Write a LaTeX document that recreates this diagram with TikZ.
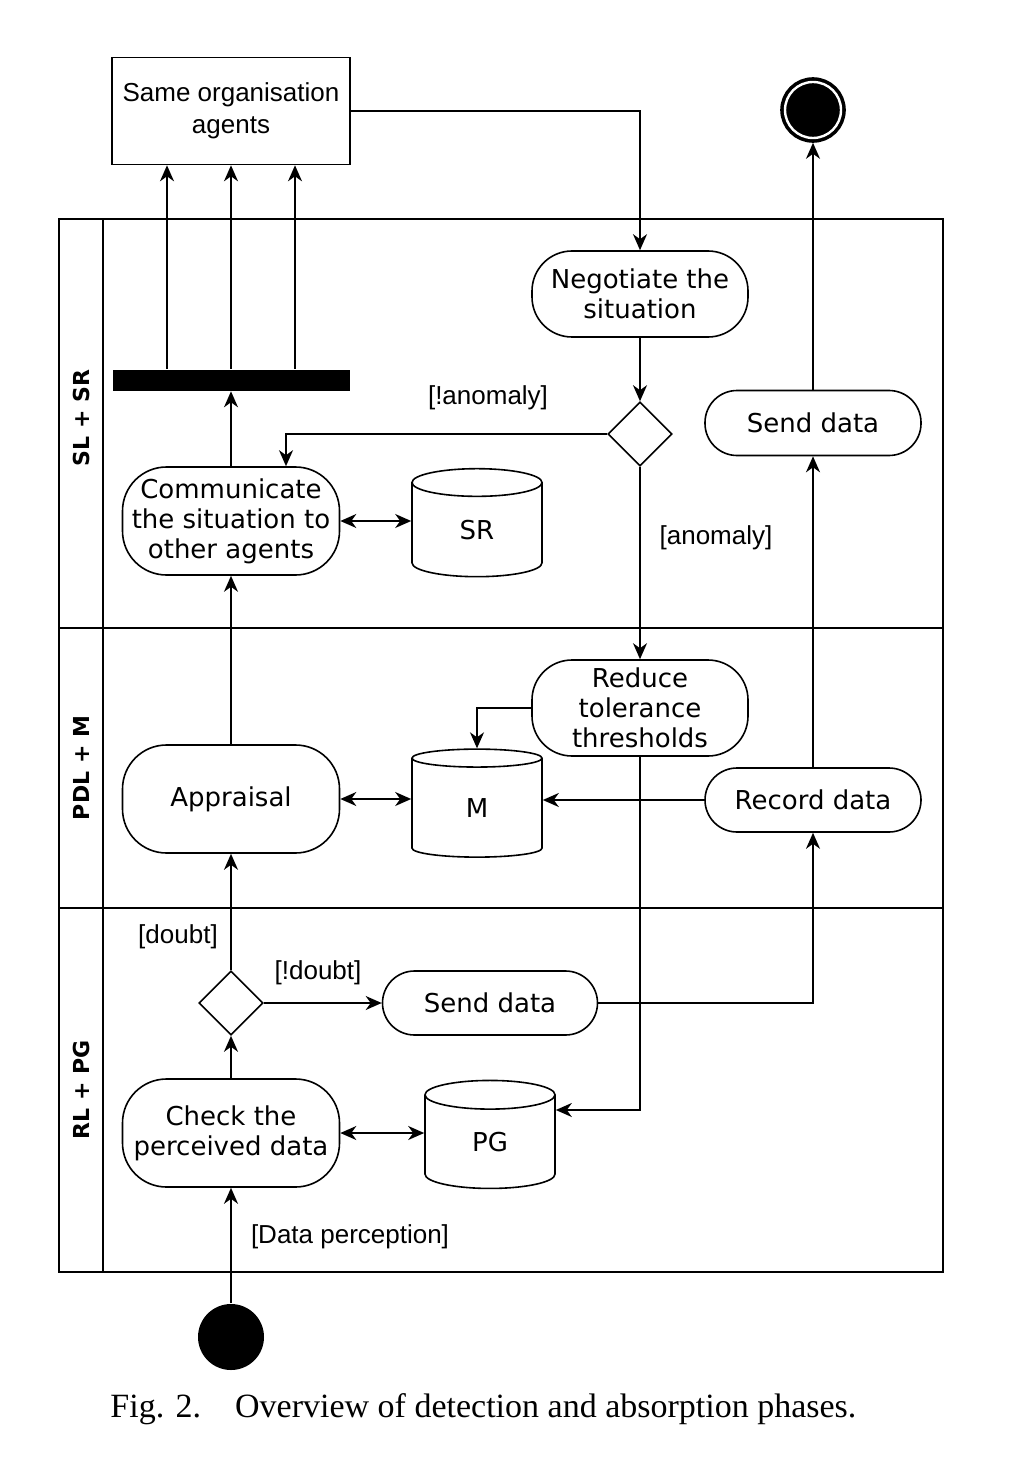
\documentclass[tikz,border=0pt]{standalone}
\usepackage{fontspec}
\setmainfont{Liberation Serif}
\newfontfamily\actfont{DejaVu Sans}
\newfontfamily\guardfont{Liberation Sans}
\usetikzlibrary{shapes.geometric,arrows.meta}
\tikzstyle{act}=[draw,rectangle,rounded corners=16pt,minimum width=108pt,minimum height=32.5pt,inner sep=1pt,align=center,font=\actfont\fontsize{13}{15}\selectfont]
\tikzstyle{store}=[draw,cylinder,shape border rotate=90,aspect=0.8,minimum width=65pt,minimum height=54pt,inner sep=0pt,font=\actfont\fontsize{13}{15}\selectfont]
\tikzstyle{choice}=[draw,diamond,minimum width=32pt,minimum height=32pt,inner sep=0pt]
\tikzstyle{guard}=[font=\guardfont\fontsize{13}{15}\selectfont]
\tikzstyle{lane}=[rotate=90,font=\actfont\bfseries\fontsize{11}{12}\selectfont]
\tikzstyle{flow}=[-{Stealth[length=8pt,width=7pt,inset=2.5pt]}]
\tikzstyle{both}=[{Stealth[length=8pt,width=7pt,inset=2.5pt]}-{Stealth[length=8pt,width=7pt,inset=2.5pt]}]

\begin{document}
\begin{tikzpicture}[x=0.5pt,y=-0.5pt,line width=0.8pt]
        \useasboundingbox (0,0) rectangle (1008,1476);
        \draw (59,219) rectangle (943,1272);
        \draw (103,219) -- (103,1272);
        \draw (59,628) -- (943,628);
        \draw (59,908) -- (943,908);
        \node[lane] (l1) at (81,418) {SL + SR};
        \node[lane] (l2) at (81,768) {PDL + M};
        \node[lane] (l3) at (81,1090) {RL + PG};

        \node[draw,rectangle,minimum width=119pt,minimum height=53.5pt,align=center,font=\guardfont\fontsize{13}{16}\selectfont] (box) at (231,111) {Same organisation\\agents};
        \node[circle,fill=black,draw=black,double=white,double distance=1.2pt,line width=1.8pt,minimum size=28pt,inner sep=0pt,outer sep=2.4pt] (fin) at (813,110) {};
        \node[rectangle,fill=black,minimum width=118.5pt,minimum height=10.5pt,inner sep=0pt] (bar) at (231,380) {};
        \node[act,rounded corners=22pt,minimum height=54pt,minimum width=108.5pt] (comm) at (231,521) {Communicate\\the situation to\\other agents};
        \node[store] (sr) at (477,530) {SR};
        \node[act,rounded corners=20pt,minimum height=43pt] (neg) at (640,294) {Negotiate the\\situation};
        \node[choice] (dec1) at (640,434) {};
        \node[act] (snd1) at (813,423) {Send data};
        \node[act,rounded corners=20pt,minimum height=48pt] (red) at (640,708) {Reduce\\tolerance\\thresholds};
        \node[act,rounded corners=22pt,minimum height=54pt,minimum width=108.5pt] (app) at (231,799) {Appraisal};
        \node[store] (m) at (477,808) {M};
        \node[act,minimum height=32pt] (rec) at (813,800) {Record data};
        \node[choice] (dec2) at (231,1003) {};
        \node[act,minimum height=32pt,minimum width=107.5pt] (snd2) at (490,1003) {Send data};
        \node[act,rounded corners=22pt,minimum height=54pt,minimum width=108.5pt] (chk) at (231,1133) {Check the\\perceived data};
        \node[store] (pg) at (490,1142) {PG};
        \node[circle,fill=black,minimum size=33pt,inner sep=0pt] (ini) at (231,1337) {};

        \node[guard] (g1) at (488,398) {[!anomaly]};
        \node[guard] (g2) at (716,538) {[anomaly]};
        \node[guard] (g3) at (178,937) {[doubt]};
        \node[guard] (g4) at (318,973) {[!doubt]};
        \node[guard] (g5) at (350,1237) {[Data perception]};

        \foreach \dx in {-32,0,32}
            \draw[flow] ([xshift=\dx pt]bar.north) -- ([xshift=\dx pt]box.south);
        \draw[flow] (box.east) -| (neg.north);
        \draw[flow] (neg) -- (dec1);
        \draw[flow] (dec1.west) -| ([xshift=27.5pt]comm.north);
        \draw[flow] (dec1.south) -- (red.north);
        \draw[flow] (comm) -- (bar);
        \draw[both] (comm.east) -- (sr.west |- comm.east);
        \draw[flow] (snd1) -- (fin);
        \draw[flow] (rec) -- (snd1);
        \draw[flow] (red.west) -| (m.north);
        \draw[both] (app.east) -- (m.west |- app.east);
        \draw[flow] (rec.west) -- (m.east |- rec.west);
        \draw[flow] (app) -- (comm);
        \draw[flow] (red.south) |- ([yshift=16pt]pg.east);
        \draw[flow] (dec2) -- (app);
        \draw[flow] (dec2) -- (snd2);
        \draw[flow] (snd2.east) -| (rec.south);
        \draw[flow] (chk) -- (dec2);
        \draw[both] (chk.east) -- (pg.west |- chk.east);
        \draw[flow] (ini) -- (chk);

        \node[font=\fontsize{17}{20}\selectfont,anchor=west] (cap) at (103,1409) {Fig. 2.\hspace{17pt}Overview of detection and absorption phases.};
\end{tikzpicture}
\end{document}
